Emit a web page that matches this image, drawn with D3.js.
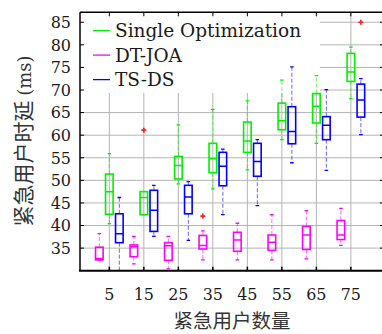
<!DOCTYPE html>
<html><head><meta charset="utf-8">
<script src="https://cdn.jsdelivr.net/npm/d3@7"></script>
<style>body{margin:0;background:#fff}svg{display:block}</style>
</head><body>
<svg id="c" width="382" height="334"></svg>
<script>
const categories = [5, 15, 25, 35, 45, 55, 65, 75];
const yTicks = [35, 40, 45, 50, 55, 60, 65, 70, 75, 80, 85];
const seriesNames = ["Single Optimization", "DT-JOA", "TS-DS"];
// [lower whisker, q1, median, q3, upper whisker]
const singleOpt = [
  [40.4, 42.5, 47.5, 51.4, 55.9],
  [42.4, 42.4, 46.2, 47.5, 47.5],
  [49.2, 50.3, 53.3, 55.3, 62.3],
  [48.1, 51.7, 54.8, 58.2, 65.7],
  [52.3, 56.2, 58.7, 62.9, 67.6],
  [59.0, 61.2, 63.2, 67.1, 72.2],
  [58.2, 62.7, 66.4, 69.2, 73.2],
  [68.1, 71.9, 74.0, 78.1, 79.5]
];
const dtJoa = [
  [32.4, 32.4, 32.7, 35.2, 38.2],
  [31.5, 33.1, 35.3, 35.7, 37.6],
  [30.4, 32.3, 35.5, 36.2, 37.6],
  [32.4, 34.8, 35.6, 37.8, 38.8],
  [32.4, 34.3, 36.8, 38.5, 40.5],
  [32.4, 34.5, 36.3, 37.9, 42.4],
  [32.6, 34.7, 37.9, 39.8, 43.3],
  [35.6, 36.9, 37.9, 41.1, 43.8]
];
const tsDs = [
  [30.0, 36.2, 38.2, 42.6, 46.2],
  [37.6, 38.7, 43.4, 47.8, 48.9],
  [36.7, 42.6, 46.3, 48.9, 49.7],
  [42.4, 48.8, 53.1, 56.2, 56.9],
  [44.4, 50.9, 54.2, 58.2, 59.0],
  [53.9, 58.1, 60.8, 66.3, 75.1],
  [52.2, 59.0, 62.2, 64.1, 70.1],
  [60.1, 64.0, 67.8, 71.3, 72.5]
];
// outliers: [category, value]
const singleOptOutliers = [[15, 61.1]];
const dtJoaOutliers = [[35, 42.1]];
const tsDsOutliers = [[75, 85.0]];

const series = [
  {name: seriesNames[0], data: singleOpt, out: singleOptOutliers, color: "#00f000", offset: 0},
  {name: seriesNames[1], data: dtJoa, out: dtJoaOutliers, color: "#ff00ff", offset: -10},
  {name: seriesNames[2], data: tsDs, out: tsDsOutliers, color: "#0000ff", offset: 10}
];

const svg = d3.select("#c");
const L = 80, R = 384, T = 12.3, B = 270.7;
const x = d3.scaleLinear().domain([-3.5, 84.6]).range([L, R]);
const y = d3.scaleLinear().domain([30, 87.2]).range([B, T]);
const serif = "'DejaVu Serif', serif";
const cjk = "'Noto Sans CJK SC', sans-serif";
const legendRight = 320, legendBottom = 93;

svg.append("clipPath").attr("id", "pc").append("rect")
  .attr("x", L).attr("y", T).attr("width", R - L).attr("height", B - T);

// grid
const grid = svg.append("g").attr("stroke", "#b4b4b4").attr("stroke-width", 1);
grid.selectAll("line.h").data(yTicks).join("line")
  .attr("x1", d => y(d) < legendBottom - 2 ? legendRight : L).attr("x2", R)
  .attr("y1", d => y(d)).attr("y2", d => y(d));
grid.selectAll("line.v").data(categories).join("line")
  .attr("x1", d => x(d)).attr("x2", d => x(d))
  .attr("y1", d => x(d) < legendRight ? legendBottom : T).attr("y2", B);

// boxes
const hw = 3.8, cw = 1.8;
const plot = svg.append("g").attr("clip-path", "url(#pc)");
series.forEach(s => {
  const g = plot.append("g");
  const items = s.data.map((v, i) => ({c: categories[i], v}));
  const cx = d => x(d.c) + s.offset;
  g.selectAll("line.wu").data(items).join("line")
    .attr("x1", cx).attr("x2", cx)
    .attr("y1", d => y(d.v[3])).attr("y2", d => y(d.v[4]))
    .attr("stroke", s.color).attr("stroke-opacity", 0.6).attr("stroke-width", 1)
    .attr("stroke-dasharray", "4,2");
  g.selectAll("line.wl").data(items).join("line")
    .attr("x1", cx).attr("x2", cx)
    .attr("y1", d => y(d.v[1])).attr("y2", d => y(d.v[0]))
    .attr("stroke", s.color).attr("stroke-opacity", 0.6).attr("stroke-width", 1)
    .attr("stroke-dasharray", "4,2");
  [0, 4].forEach(k => {
    g.selectAll("line.cap" + k).data(items).join("line")
      .attr("x1", d => cx(d) - cw).attr("x2", d => cx(d) + cw)
      .attr("y1", d => y(d.v[k])).attr("y2", d => y(d.v[k]))
      .attr("stroke", s.color).attr("stroke-width", 1.3);
  });
  g.selectAll("rect").data(items).join("rect")
    .attr("x", d => cx(d) - hw).attr("width", hw * 2)
    .attr("y", d => y(d.v[3])).attr("height", d => y(d.v[1]) - y(d.v[3]))
    .attr("fill", "none").attr("stroke", s.color).attr("stroke-width", 1.6);
  g.selectAll("line.med").data(items).join("line")
    .attr("x1", d => cx(d) - hw).attr("x2", d => cx(d) + hw)
    .attr("y1", d => y(d.v[2])).attr("y2", d => y(d.v[2]))
    .attr("stroke", s.color).attr("stroke-width", 1.5);
  const sym = d3.symbol().type(d3.symbolCross).size(14);
  g.selectAll("path.o").data(s.out).join("path")
    .attr("d", sym)
    .attr("transform", d => `translate(${x(d[0]) + s.offset},${y(d[1])})`)
    .attr("fill", "#ff2020");
});

// legend
const lg = svg.append("g");
series.forEach((s, i) => {
  const ly = 30.6 + i * 24.5;
  lg.append("line").attr("x1", 93).attr("x2", 110).attr("y1", ly).attr("y2", ly)
    .attr("stroke", s.color).attr("stroke-width", 1.3);
  lg.append("text").attr("x", 115).attr("y", ly + 6.6).text(s.name)
    .attr("font-family", serif).attr("font-size", 18.5).attr("fill", "#1a1a1a");
});

// frame
const fr = svg.append("g").attr("stroke", "#000");
fr.append("line").attr("x1", L).attr("x2", L).attr("y1", T).attr("y2", B).attr("stroke-width", 1.5);
fr.append("line").attr("x1", L).attr("x2", R).attr("y1", T).attr("y2", T).attr("stroke-width", 1.5);
fr.append("line").attr("x1", L - 1).attr("x2", R).attr("y1", B).attr("y2", B).attr("stroke-width", 2);
fr.append("line").attr("x1", R).attr("x2", R).attr("y1", T).attr("y2", B).attr("stroke-width", 1.5);

fr.selectAll("line.tl").data(yTicks).join("line")
  .attr("x1", L).attr("x2", L + 4).attr("y1", d => y(d)).attr("y2", d => y(d)).attr("stroke-width", 1);
fr.selectAll("line.tr").data(yTicks).join("line")
  .attr("x1", R - 4).attr("x2", R).attr("y1", d => y(d)).attr("y2", d => y(d)).attr("stroke-width", 1);
fr.selectAll("line.tt").data(categories).join("line")
  .attr("x1", d => x(d)).attr("x2", d => x(d)).attr("y1", T).attr("y2", T + 4).attr("stroke-width", 1);
fr.selectAll("line.tb").data(categories).join("line")
  .attr("x1", d => x(d)).attr("x2", d => x(d)).attr("y1", B - 4).attr("y2", B).attr("stroke-width", 1.5);

// tick labels
svg.append("g").selectAll("text").data(yTicks).join("text")
  .attr("x", 71).attr("y", d => y(d) + 5.8).attr("text-anchor", "end")
  .attr("font-family", serif).attr("font-size", 16).attr("fill", "#1a1a1a").text(d => d);
svg.append("g").selectAll("text").data(categories).join("text")
  .attr("x", d => x(d)).attr("y", 300).attr("text-anchor", "middle")
  .attr("font-family", serif).attr("font-size", 16).attr("fill", "#1a1a1a").text(d => d);

// axis titles
svg.append("text").attr("x", 232).attr("y", 327.5).attr("text-anchor", "middle")
  .attr("font-family", cjk).attr("font-size", 19.5).attr("fill", "#333").text("紧急用户数量");
const yt = svg.append("text").attr("transform", "translate(31,141) rotate(-90)")
  .attr("text-anchor", "middle").attr("font-family", cjk).attr("font-size", 21).attr("fill", "#333");
yt.append("tspan").text("紧急用户时延 ");
yt.append("tspan").attr("font-family", serif).attr("font-size", 18).text("(ms)");
</script>
</body></html>
